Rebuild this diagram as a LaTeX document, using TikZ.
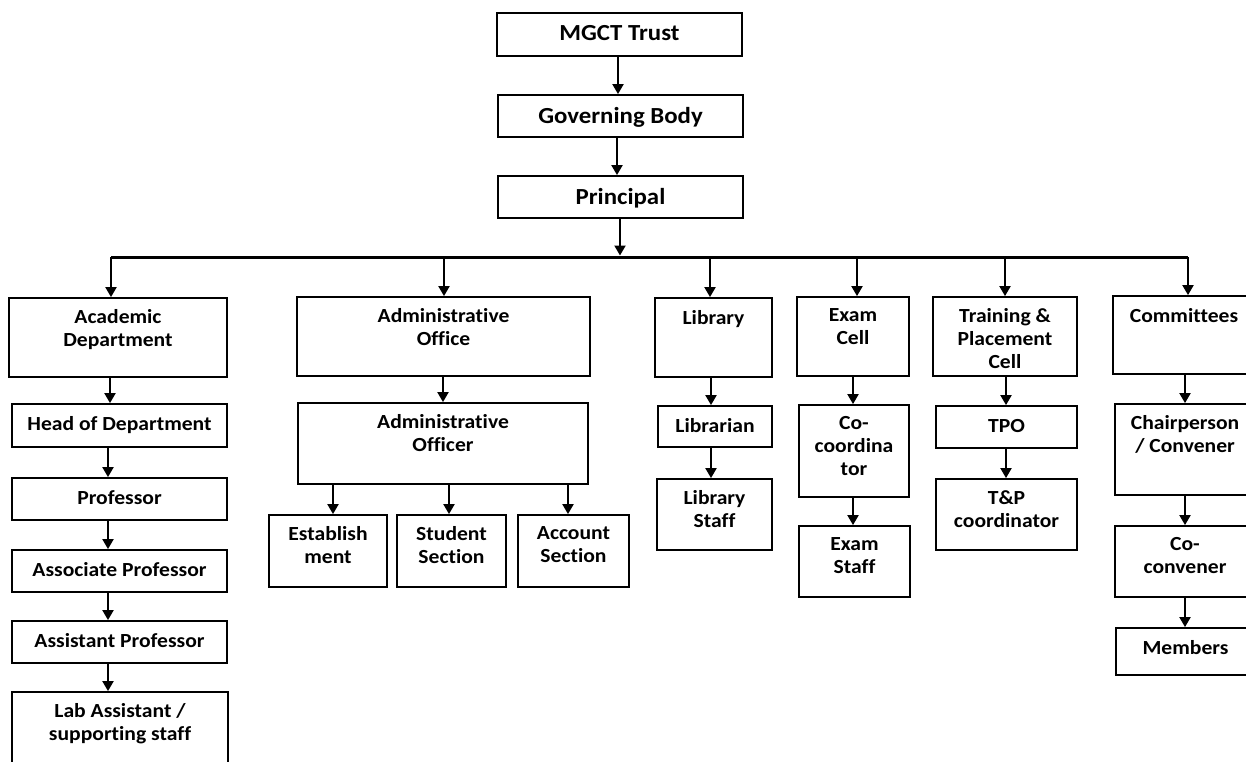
\documentclass[tikz,border=0pt]{standalone}
\usepackage{fontspec}
\setmainfont{Carlito}[FakeStretch=1.08, Ligatures=NoCommon]
\usetikzlibrary{arrows.meta}
\tikzset{
  box/.style={draw=black, line width=1.8pt, rectangle, inner sep=0pt, fill=white},
  txt/.style={align=center, inner sep=0pt, font=\fontsize{20}{23}\selectfont\bfseries,
    execute at begin node={\rule{0pt}{15pt}}},
  bigtxt/.style={font=\fontsize{23}{27}\selectfont\bfseries, yshift=-1.5pt},
  arr/.style={line width=2pt, -{Triangle[width=11pt,length=10pt]}},
  bus/.style={line width=3pt}
}
\newcommand\bx[6][]{%
  \node[box, minimum width={#5-#3}, minimum height={#6-#4}] (#2) at ({(#3+#5)/2},{(#4+#6)/2}) {};
  \node[txt, anchor=north, #1] (#2-t) at ([yshift=-12pt]#2.north) {\bxtext};
}
\begin{document}
\begin{tikzpicture}[x=1pt,y=-1pt]
\useasboundingbox (0,0) rectangle (1246,762);
\clip (0,0) rectangle (1246,762);
\fill[white] (0,0) rectangle (1246,762);
% top chain
\def\bxtext{MGCT Trust}\bx[bigtxt]{trust}{497}{13}{742}{56}
\def\bxtext{Governing Body}\bx[bigtxt]{gov}{498}{95}{743}{137}
\def\bxtext{Principal}\bx[bigtxt]{prin}{498}{176}{743}{218}
% academic column
\def\bxtext{Academic\\Department}\bx{acad}{9}{298}{227}{377}
\def\bxtext{Head of Department}\bx{hod}{12}{404}{227}{447}
\def\bxtext{Professor}\bx{prof}{12}{478}{227}{520}
\def\bxtext{Associate Professor}\bx{assoc}{12}{550}{227}{592}
\def\bxtext{Assistant Professor}\bx{asst}{12}{621}{227}{663}
\def\bxtext{Lab Assistant /\\supporting staff}\bx{lab}{12}{692}{228}{790}
% administrative
\def\bxtext{Administrative\\Office}\bx{admoff}{297}{297}{590}{376}
\def\bxtext{Administrative\\Officer}\bx{adofr}{298}{403}{588}{484}
\def\bxtext{Establish\\ment}\bx{estab}{269}{515}{387}{587}
\def\bxtext{Student\\Section}\bx{stud}{397}{515}{506}{587}
\def\bxtext{Account\\Section}\bx{acct}{518}{515}{629}{587}
% library
\def\bxtext{Library}\bx{lib}{655}{298}{772}{377}
\def\bxtext{Librarian}\bx{libn}{658}{406}{772}{447}
\def\bxtext{Library\\Staff}\bx{libst}{657}{479}{772}{550}
% exam
\def\bxtext{Exam\\Cell}\bx{exam}{797}{297}{909}{376}
\def\bxtext{Co-\\coordina\\tor}\bx{cocoord}{799}{405}{909}{497}
\def\bxtext{Exam\\Staff}\bx{examst}{799}{526}{910}{597}
% T&P
\def\bxtext{Training \&\\Placement\\Cell}\bx{tpc}{933}{297}{1077}{376}
\def\bxtext{TPO}\bx{tpo}{936}{406}{1077}{448}
\def\bxtext{T\&P\\coordinator}\bx{tpcoord}{936}{479}{1077}{550}
% committees
\def\bxtext{Committees}\bx{comm}{1113}{296}{1255}{374}
\def\bxtext{Chairperson\\/ Convener}\bx{chair}{1115}{404}{1255}{495}
\def\bxtext{Co-\\convener}\bx{coconv}{1115}{526}{1255}{597}
\def\bxtext{Members}\bx{members}{1116}{628}{1255}{675}
% column x coordinates
\coordinate (b0) at (111,257);
\coordinate (b1) at (1188,257);
\coordinate (xa) at (110,0);
\coordinate (xb) at (108,0);
\coordinate (xc) at (443,0);
\coordinate (xd) at (333,0);
\coordinate (xe) at (449,0);
\coordinate (xf) at (568,0);
\coordinate (xg) at (711,0);
\coordinate (xh) at (853,0);
\coordinate (xi) at (1006,0);
\coordinate (xj) at (1185,0);
\coordinate (ba) at (111,257);
\coordinate (bb) at (444,257);
\coordinate (bc) at (710,257);
\coordinate (bd) at (857,257);
\coordinate (be) at (1005,257);
\coordinate (bf) at (1188,257);
% top arrows
\draw[arr] (trust.south -| 618,0) -- (gov.north -| 618,0);
\draw[arr] (gov.south -| 617,0) -- (prin.north -| 617,0);
\draw[arr] (prin.south -| 620,0) -- (620,255.5);
% bus
\draw[bus] (b0) -- (b1);
\draw[arr] (ba) -- (acad.north -| ba);
\draw[arr] (bb) -- (admoff.north -| bb);
\draw[arr] (bc) -- (lib.north -| bc);
\draw[arr] (bd) -- (exam.north -| bd);
\draw[arr] (be) -- (tpc.north -| be);
\draw[arr] (bf) -- (comm.north -| bf);
% academic chain
\draw[arr] (acad.south -| xa) -- (hod.north -| xa);
\draw[arr] (hod.south -| xb) -- (prof.north -| xb);
\draw[arr] (prof.south -| xb) -- (assoc.north -| xb);
\draw[arr] (assoc.south -| xb) -- (asst.north -| xb);
\draw[arr] (asst.south -| xb) -- (lab.north -| xb);
% admin
\draw[arr] (admoff.south -| xc) -- (adofr.north -| xc);
\draw[arr] (adofr.south -| xd) -- (estab.north -| xd);
\draw[arr] (adofr.south -| xe) -- (stud.north -| xe);
\draw[arr] (adofr.south -| xf) -- (acct.north -| xf);
% library
\draw[arr] (lib.south -| xg) -- (libn.north -| xg);
\draw[arr] (libn.south -| xg) -- (libst.north -| xg);
% exam
\draw[arr] (exam.south -| xh) -- (cocoord.north -| xh);
\draw[arr] (cocoord.south -| xh) -- (examst.north -| xh);
% T&P
\draw[arr] (tpc.south -| xi) -- (tpo.north -| xi);
\draw[arr] (tpo.south -| xi) -- (tpcoord.north -| xi);
% committees
\draw[arr] (comm.south -| xj) -- (chair.north -| xj);
\draw[arr] (chair.south -| xj) -- (coconv.north -| xj);
\draw[arr] (coconv.south -| xj) -- (members.north -| xj);
\end{tikzpicture}
\end{document}
